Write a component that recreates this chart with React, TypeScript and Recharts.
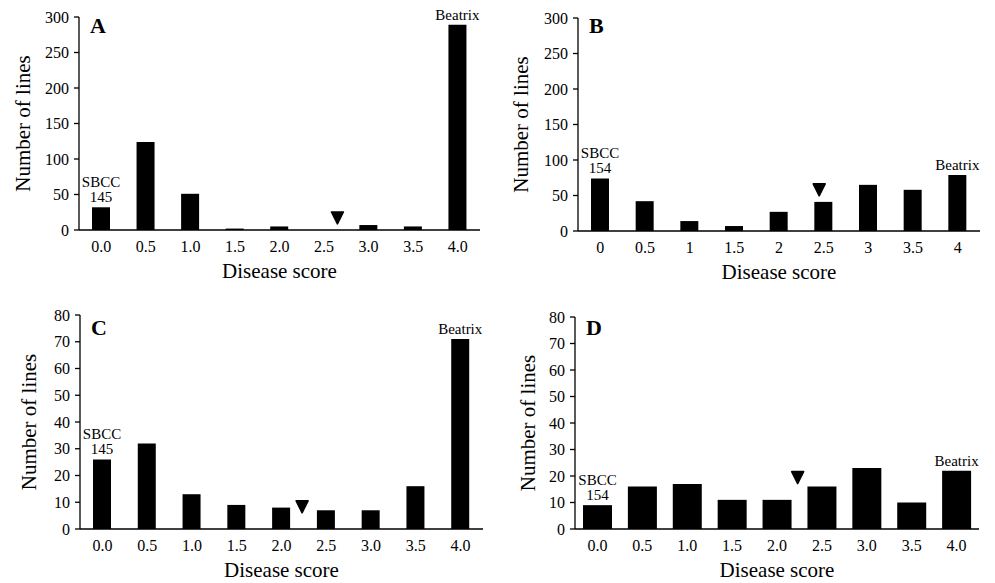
import React from 'react';
import { BarChart, Bar, XAxis, YAxis, ReferenceDot, LabelList, Label } from 'recharts';

// disease score categories (panel B prints them without trailing zeros)
const scoreValues = [0, 0.5, 1, 1.5, 2, 2.5, 3, 3.5, 4];
const scoreLabels = ['0.0', '0.5', '1.0', '1.5', '2.0', '2.5', '3.0', '3.5', '4.0'];
const scoreLabelsPlain = ['0', '0.5', '1', '1.5', '2', '2.5', '3', '3.5', '4'];

// number of lines per score, one array per panel
const linesA = [32, 124, 51, 2, 5, 0, 7, 5, 289];
const linesB = [74, 42, 14, 7, 27, 41, 65, 58, 79];
const linesC = [26, 32, 13, 9, 8, 7, 7, 16, 71];
const linesD = [9, 16, 17, 11, 11, 16, 23, 10, 22];

const panelLetters = ['A', 'B', 'C', 'D'];
const lowParents = ['SBCC 145', 'SBCC 154', 'SBCC 145', 'SBCC 154'];
const highParent = 'Beatrix';

const yTicksLarge = [0, 50, 100, 150, 200, 250, 300];
const yTicksSmall = [0, 10, 20, 30, 40, 50, 60, 70, 80];

// arrow marker: score position and height (in lines)
const arrowScore = [2.65, 2.45, 2.23, 2.23];
const arrowLevel = [17, 58, 8.3, 19.4];

const FONT = '"Liberation Serif", "Times New Roman", Times, serif';

const panels = [
  { values: linesA, labels: scoreLabels, ticks: yTicksLarge, left: 0, top: 0, width: 495, height: 290,
    margin: { top: 17, right: 15, bottom: 10, left: 29 }, barSize: 18, yLabelDx: -56, letterDy: 16 },
  { values: linesB, labels: scoreLabelsPlain, ticks: yTicksLarge, left: 495, top: 0, width: 495, height: 290,
    margin: { top: 18, right: 10, bottom: 9, left: 33 }, barSize: 18, yLabelDx: -57, letterDy: 15 },
  { values: linesC, labels: scoreLabels, ticks: yTicksSmall, left: 0, top: 290, width: 495, height: 293,
    margin: { top: 25, right: 12, bottom: 4, left: 30 }, barSize: 18, yLabelDx: -51, letterDy: 20 },
  { values: linesD, labels: scoreLabels, ticks: yTicksSmall, left: 495, top: 290, width: 495, height: 293,
    margin: { top: 27, right: 11, bottom: 4, left: 30 }, barSize: 29, yLabelDx: -47, letterDy: 18 },
];

const Y_AXIS_WIDTH = 50;

const Panel = ({ idx }: { idx: number }) => {
  const p = panels[idx];
  const data = p.values.map((v, i) => ({
    score: p.labels[i],
    pos: scoreValues[i],
    lines: v,
    note: i === 0 ? lowParents[idx] : i === p.values.length - 1 ? highParent : '',
  }));
  const yMax = p.ticks[p.ticks.length - 1];

  const renderNote = (props: any) => {
    const { x, y, width, value } = props;
    if (!value) return null;
    const parts = String(value).split(' ');
    const cx = Number(x) + Number(width) / 2;
    return (
      <g>
        {parts.map((t, k) => (
          <text key={k} x={cx} y={Number(y) - 5 - (parts.length - 1 - k) * 15}
            textAnchor="middle" fontSize={15} fontFamily={FONT} fill="#000">{t}</text>
        ))}
      </g>
    );
  };

  const renderYTitle = (props: any) => {
    const vb = props.viewBox;
    const plotLeft = vb.x + vb.width;
    const cx = plotLeft + p.yLabelDx;
    const cy = vb.y + vb.height / 2;
    return (
      <g>
        <text x={cx} y={cy} dy="0.35em" textAnchor="middle" transform={`rotate(-90, ${cx}, ${cy})`}
          fontSize={21} fontFamily={FONT} fill="#000">Number of lines</text>
        <text x={plotLeft + 11} y={vb.y + p.letterDy} fontSize={22} fontWeight="bold"
          fontFamily={FONT} fill="#000">{panelLetters[idx]}</text>
      </g>
    );
  };

  const renderXTitle = (props: any) => {
    const vb = props.viewBox;
    return (
      <text x={vb.x + vb.width / 2} y={vb.y + 48} textAnchor="middle"
        fontSize={21} fontFamily={FONT} fill="#000">Disease score</text>
    );
  };

  return (
    <div style={{ position: 'absolute', left: p.left, top: p.top }}>
      <BarChart width={p.width} height={p.height} data={data} margin={p.margin}>
        <XAxis dataKey="score" height={50} tickLine={false} tickMargin={5}
          axisLine={{ stroke: '#000', strokeWidth: 1.3 }}
          tick={{ fill: '#000', fontSize: 16, fontFamily: FONT }} interval={0}>
          <Label content={renderXTitle} />
        </XAxis>
        <XAxis xAxisId="pos" dataKey="pos" type="number" domain={[-0.25, 4.25]} hide allowDataOverflow />
        <YAxis width={Y_AXIS_WIDTH} domain={[0, yMax]} ticks={p.ticks} interval={0}
          tickSize={5} tickMargin={5}
          axisLine={{ stroke: '#000', strokeWidth: 1.3 }} tickLine={{ stroke: '#000', strokeWidth: 1.3 }}
          tick={{ fill: '#000', fontSize: 16, fontFamily: FONT }}>
          <Label content={renderYTitle} />
        </YAxis>
        <Bar dataKey="lines" fill="#000" barSize={p.barSize} isAnimationActive={false}>
          <LabelList dataKey="note" content={renderNote} />
        </Bar>
        <ReferenceDot xAxisId="pos" x={arrowScore[idx]} y={arrowLevel[idx]} ifOverflow="visible"
          shape={(s: any) => (
            <polygon points={`${s.cx - 6},${s.cy - 6} ${s.cx + 6},${s.cy - 6} ${s.cx},${s.cy + 6}`}
              fill="#000" stroke="#000" strokeWidth={1.5} strokeLinejoin="round" />
          )} />
      </BarChart>
    </div>
  );
}

export default function App() {
  return (
    <div style={{ position: 'absolute', left: 0, top: 0, width: 995, height: 583, background: '#fff' }}>
      {panels.map((_, i) => <Panel key={i} idx={i} />)}
    </div>
  );
}
